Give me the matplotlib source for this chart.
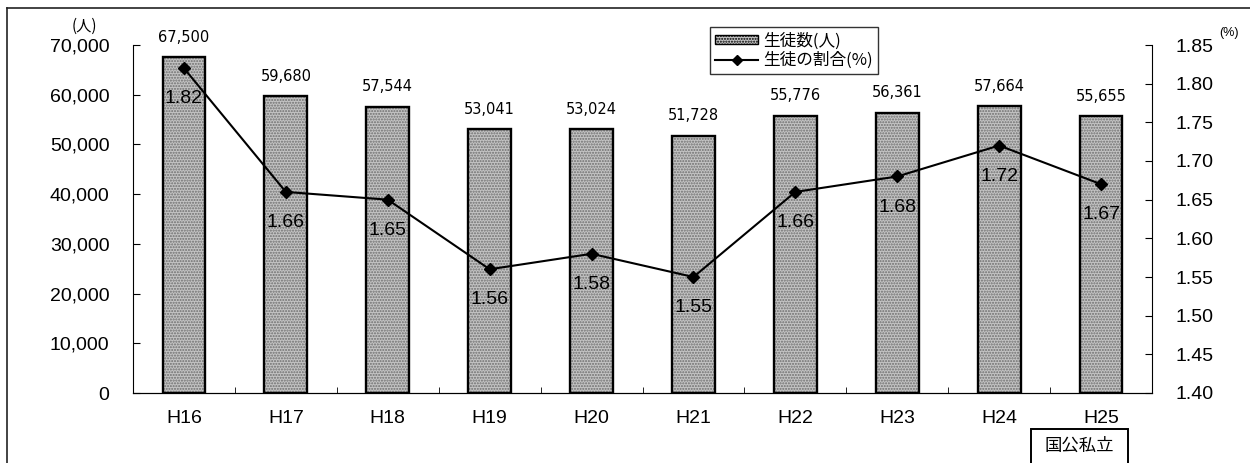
import matplotlib
matplotlib.use('Agg')
import matplotlib.pyplot as plt
from matplotlib.patches import Patch, Rectangle
from matplotlib.lines import Line2D
from matplotlib.ticker import FuncFormatter, MultipleLocator

plt.rcParams['font.family'] = ['Liberation Sans', 'Noto Sans CJK JP', 'DejaVu Sans']

years = ['H16', 'H17', 'H18', 'H19', 'H20', 'H21', 'H22', 'H23', 'H24', 'H25']
students = [67500, 59680, 57544, 53041, 53024, 51728, 55776, 56361, 57664, 55655]
ratio = [1.82, 1.66, 1.65, 1.56, 1.58, 1.55, 1.66, 1.68, 1.72, 1.67]

W, H = 1250, 463
fig = plt.figure(figsize=(W / 100, H / 100), dpi=100)
ax = fig.add_axes([133 / W, 70 / H, 1019 / W, 348 / H])
x = list(range(len(years)))

# stippled grey bars, then a black outline on top
ax.bar(x, students, width=0.42, color='#c4c4c4', edgecolor='#6e6e6e',
       hatch='......', linewidth=0)
ax.bar(x, students, width=0.42, fill=False, edgecolor='black', linewidth=1.7)
for xi, v in zip(x, students):
    ax.annotate(f'{v:,}', (xi, v), xytext=(0, 9), textcoords='offset points',
                ha='center', va='bottom', fontsize=10.5, family='DejaVu Sans')

ax.set_xlim(-0.5, len(years) - 0.5)
ax.set_ylim(0, 70000)
ax.yaxis.set_major_locator(MultipleLocator(10000))
ax.yaxis.set_major_formatter(FuncFormatter(lambda v, p: f'{int(v):,}'))
ax.set_xticks(x)
ax.set_xticklabels(years)
ax.set_xticks([i + 0.5 for i in x[:-1]], minor=True)
ax.tick_params(axis='x', which='major', length=0, pad=12, labelsize=14)
ax.tick_params(axis='x', which='minor', direction='in', length=4)
ax.tick_params(axis='y', direction='in', length=5, pad=17, labelsize=14)
ax.spines['top'].set_visible(False)
ax.spines['right'].set_visible(False)

ax2 = ax.twinx()
ax2.plot(x, ratio, color='black', linewidth=1.5, marker='D', markersize=6)
for xi, r in zip(x, ratio):
    ax2.annotate(f'{r:.2f}', (xi, r), xytext=(0, -22), textcoords='offset points',
                 ha='center', va='center', fontsize=14)
ax2.set_ylim(1.40, 1.85)
ax2.yaxis.set_major_locator(MultipleLocator(0.05))
ax2.yaxis.set_major_formatter(FuncFormatter(lambda v, p: f'{v:.2f}'))
ax2.tick_params(axis='y', direction='in', length=5, pad=17, labelsize=14)
ax2.spines['top'].set_visible(False)
ax2.spines['left'].set_visible(False)

handles = [Patch(facecolor='#c4c4c4', edgecolor='black', hatch='......', linewidth=1),
           Line2D([], [], color='black', linewidth=1.5, marker='D', markersize=5)]
leg = ax2.legend(handles, ['生徒数(人)', '生徒の割合(%)'], loc='upper left',
                 bbox_to_anchor=(0.558, 1.075), frameon=True,
                 fancybox=False, edgecolor='black', handlelength=2.6,
                 handleheight=0.45, borderpad=0.3, labelspacing=0.15,
                 handletextpad=0.3, prop={'family': 'Noto Sans CJK JP', 'size': 12})
leg.get_frame().set_linewidth(1)

fig.text(84 / W, 1 - 26 / H, '(人)', ha='center', va='center', fontsize=11,
         family='Noto Sans CJK JP')
fig.text(1229 / W, 1 - 33 / H, '(%)', ha='center', va='center', fontsize=9)

# outer frame and the bottom-right label box
fig.add_artist(Line2D([7 / W, 7 / W], [0, 1 - 8 / H], color='#222222', linewidth=1.2))
fig.add_artist(Line2D([7 / W, 1], [1 - 8 / H, 1 - 8 / H], color='#222222', linewidth=1.2))
fig.add_artist(Rectangle((1031 / W, -0.05), 97 / W, 0.05 + 34 / H, fill=False,
                         edgecolor='black', linewidth=1.4, transform=fig.transFigure))
fig.text(1079 / W, 1 - 446 / H, '国公私立', ha='center', va='center', fontsize=12.5,
         family='Noto Sans CJK JP')

fig.savefig('out.png', dpi=100)
